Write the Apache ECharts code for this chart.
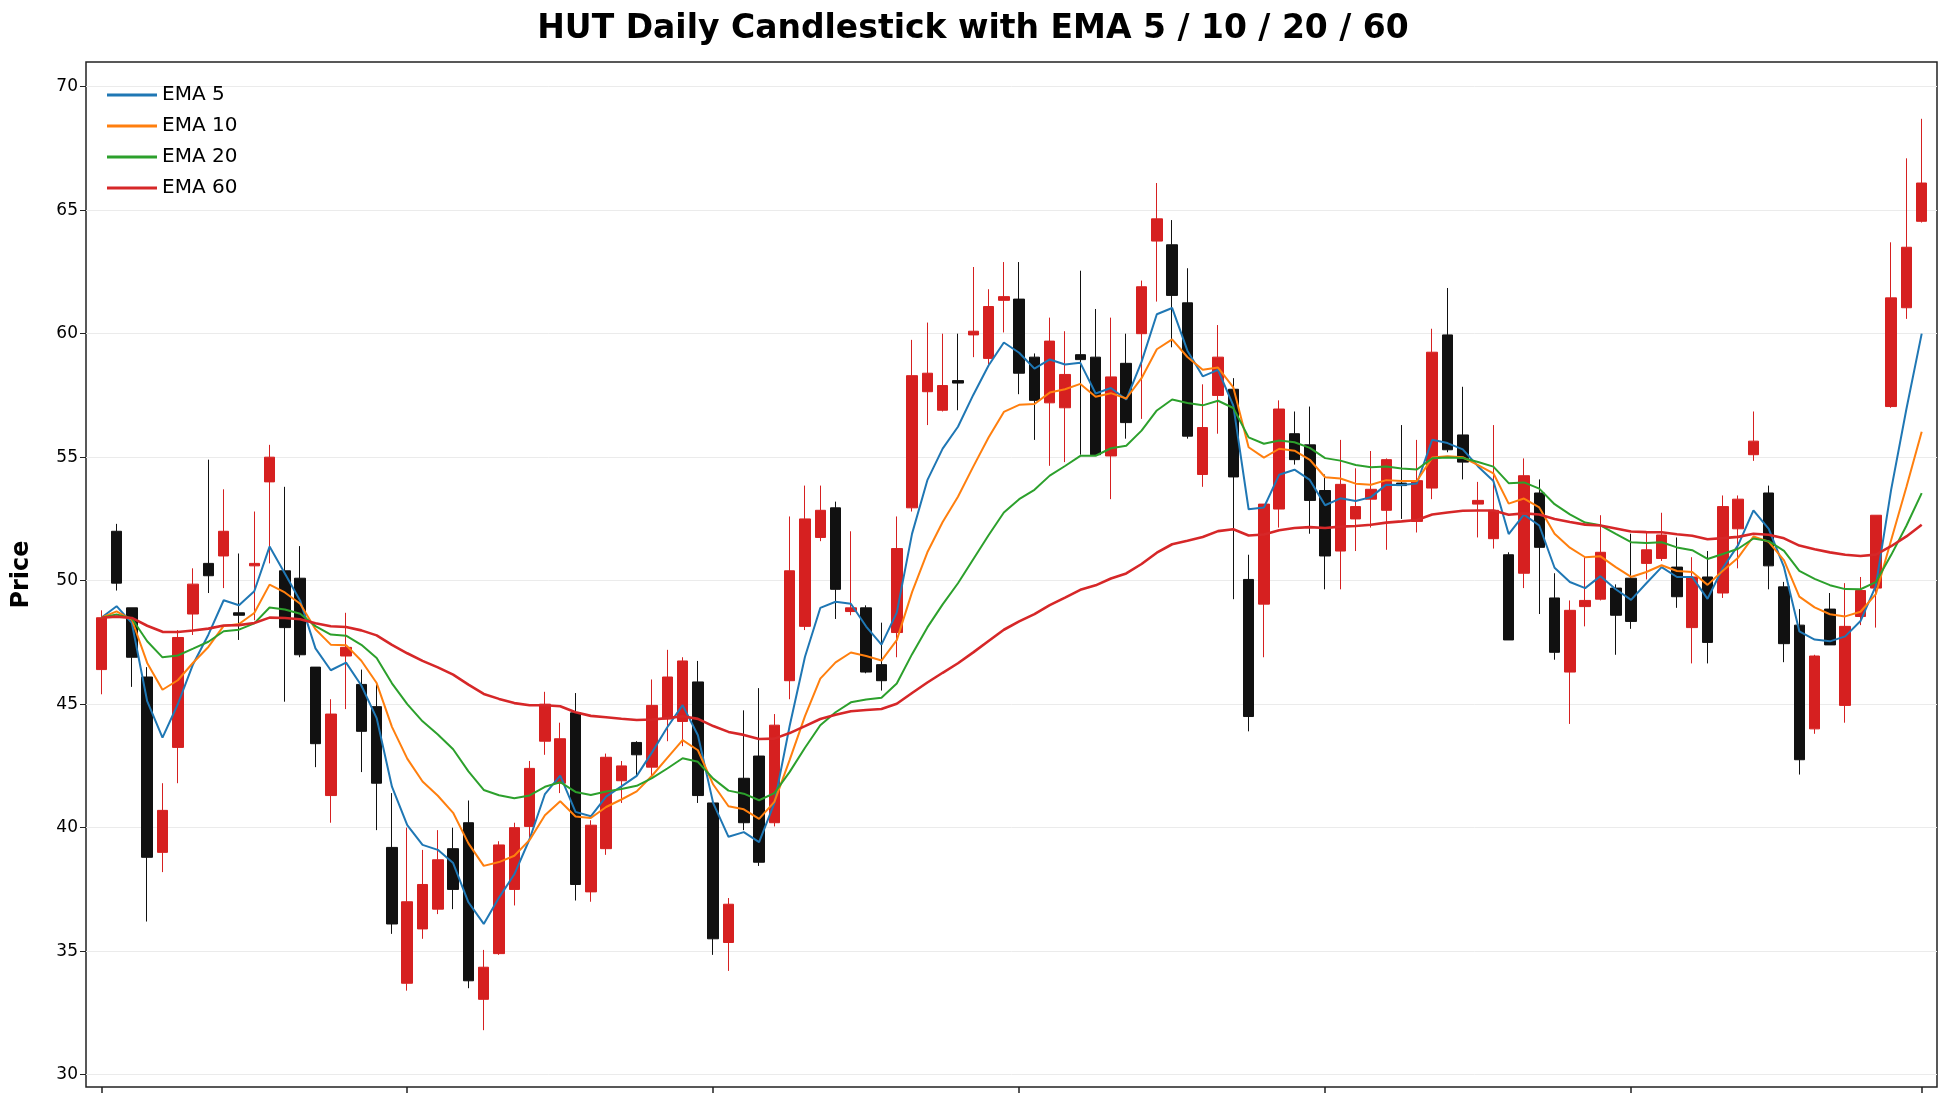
<!DOCTYPE html>
<html><head><meta charset="utf-8">
<script src="https://cdn.jsdelivr.net/npm/echarts@6/dist/echarts.min.js"></script>
<style>html,body{margin:0;padding:0;background:#fff}#c{width:1946px;height:1106px}</style>
</head><body><div id="c"></div>
<script>
// [open, close, low, high]
const opens  = [46.4,52.0,48.9,46.1,39.0,43.25,48.65,50.7,51.0,48.7,50.6,54.0,50.4,50.1,46.5,41.3,46.95,45.8,44.9,39.2,
33.7,35.9,36.7,39.15,40.2,33.05,34.9,37.5,40.05,43.5,41.8,44.65,37.4,39.15,41.9,43.45,42.45,44.4,44.3,45.9,
41.0,35.35,42.0,42.9,40.2,45.95,48.15,51.75,52.95,48.75,48.9,46.6,47.9,52.95,57.65,56.9,58.1,59.95,59.0,61.35,
61.4,59.05,57.2,57.0,59.15,59.05,55.05,58.8,60.0,63.75,63.6,61.25,54.3,57.5,57.75,50.05,49.05,52.9,55.95,55.5,
53.65,51.2,52.5,53.3,52.85,53.95,52.4,53.75,59.95,55.9,53.1,51.7,51.05,50.3,53.55,49.3,46.3,48.95,49.25,49.7,
50.1,50.7,50.9,50.55,48.1,50.15,49.5,52.1,55.1,53.55,49.75,48.2,44.0,48.85,44.95,48.55,49.7,57.05,61.05,64.55];
const closes = [48.5,49.9,46.9,38.8,40.7,47.7,49.86,50.2,52.0,48.6,50.7,55.0,48.1,47.0,43.4,44.6,47.3,43.9,41.8,36.1,
37.0,37.7,38.7,37.5,33.8,34.35,39.3,40.0,42.4,45.0,43.6,37.7,40.1,42.85,42.5,42.95,44.95,46.1,46.75,41.3,
35.5,36.9,40.2,38.6,44.15,50.4,52.5,52.85,49.65,48.9,46.3,45.95,51.3,58.3,58.4,57.9,58.0,60.1,61.1,61.5,
58.4,57.3,59.7,58.35,58.95,55.1,58.25,56.4,61.9,64.65,61.55,55.85,56.2,59.05,54.2,44.5,53.1,56.95,54.9,53.25,
51.0,53.9,53.0,53.7,54.9,53.85,54.05,59.25,55.3,54.8,53.25,52.85,47.6,54.25,51.35,47.1,48.8,49.2,51.15,48.6,
48.35,51.25,51.85,49.35,50.15,47.5,53.0,53.3,55.65,50.6,47.45,42.75,46.95,47.4,48.15,49.6,52.65,61.45,63.5,66.1];
const lows   = [45.4,49.6,45.7,36.2,38.2,41.8,47.8,49.5,49.7,47.6,48.4,50.7,45.1,46.9,42.45,40.2,44.8,42.25,39.9,35.7,
33.4,35.5,36.5,36.7,33.5,31.8,34.85,36.85,39.6,42.95,41.4,37.05,37.0,38.9,41.0,42.05,42.1,43.5,43.3,41.0,
34.85,34.2,39.9,38.45,40.05,45.2,48.0,51.6,48.45,48.6,46.25,45.55,46.9,52.8,56.3,56.85,56.9,59.05,58.75,60.05,
57.55,55.7,54.65,54.8,55.1,55.1,53.3,55.75,56.55,61.3,59.45,55.75,53.8,55.95,49.25,43.9,46.9,52.15,54.7,51.9,
49.65,49.65,51.2,52.15,51.25,52.5,51.95,53.3,55.2,54.1,51.75,51.3,47.6,49.7,48.65,46.8,44.2,48.15,49.2,47.0,
48.05,50.05,50.8,48.9,46.65,46.65,49.3,50.5,54.85,49.65,46.7,42.15,43.8,47.4,44.25,48.2,48.1,57.0,60.6,64.5];
const highs  = [48.8,52.3,48.9,46.5,41.8,48.0,50.5,54.9,53.7,51.1,52.8,55.5,53.8,51.4,46.5,45.2,48.7,46.4,45.8,41.4,
40.0,39.1,39.9,40.0,41.1,35.05,39.45,40.2,42.7,45.5,44.25,45.45,40.3,43.0,42.7,43.5,46.0,47.2,46.9,46.75,
41.05,37.15,44.75,45.65,44.6,52.6,53.85,53.85,53.2,52.0,49.0,48.3,52.6,59.75,60.45,60.0,60.0,62.7,61.8,62.9,
62.9,59.2,60.65,60.1,62.55,61.0,60.65,60.0,62.15,66.1,64.6,62.65,57.95,60.35,58.2,51.05,53.1,57.3,56.85,57.05,
54.3,55.7,54.55,55.25,54.95,56.3,55.7,60.2,61.85,57.85,54.0,56.3,51.15,54.95,54.1,50.3,49.2,50.95,52.65,49.85,
51.9,51.95,52.75,51.75,50.95,51.2,53.45,53.45,56.85,53.85,49.95,48.85,47.0,49.5,49.9,50.15,52.65,63.7,67.1,68.7];
const emaPeriods = [5, 10, 20, 60];
const emaColors = ['#1f77b4', '#ff7f0e', '#2ca02c', '#d62728'];
const yTicks = [30, 35, 40, 45, 50, 55, 60, 65, 70];
const tickIdx = [0, 20, 40, 60, 80, 100, 119];

const cats = [''].concat(closes.map((_, i) => 'D' + (i + 1))).concat(['']);
const kData = [['-','-','-','-']].concat(closes.map((c, i) => [opens[i], c, lows[i], highs[i]])).concat([['-','-','-','-']]);
function ema(p) {
  const a = 2 / (p + 1); let e = closes[0]; const out = ['-'];
  closes.forEach((c, i) => { e = i === 0 ? c : a * c + (1 - a) * e; out.push(+e.toFixed(3)); });
  out.push('-'); return out;
}
const tickSet = new Set(tickIdx.map(i => i + 1));
const chart = echarts.init(document.getElementById('c'), null, {renderer: 'canvas'});
const font = 'DejaVu Sans';
chart.setOption({
  animation: false,
  backgroundColor: '#fff',
  title: {text: 'HUT Daily Candlestick with EMA 5 / 10 / 20 / 60', left: 'center', top: 8,
    textStyle: {fontFamily: font, fontSize: 33, fontWeight: 'bold', color: '#000'}},
  legend: {left: 102, top: 80, orient: 'vertical', itemGap: 11, itemWidth: 50, itemHeight: 3,
    textStyle: {fontFamily: font, fontSize: 20, color: '#000'},
    data: emaPeriods.map(p => ({name: 'EMA ' + p, icon: 'rect'}))},
  grid: {left: 86, right: 9, top: 62, bottom: 19, show: true, borderColor: '#222', borderWidth: 1.5},
  xAxis: {type: 'category', data: cats, boundaryGap: false,
    axisLine: {show: false},
    axisTick: {show: true, interval: (i) => tickSet.has(i), length: 6, lineStyle: {color: '#222', width: 1.5}},
    axisLabel: {show: false}, splitLine: {show: false}},
  yAxis: {type: 'value', min: 29.5, max: 71, name: 'Price', nameLocation: 'middle', nameGap: 52,
    nameTextStyle: {fontFamily: font, fontSize: 24, fontWeight: 'bold', color: '#000'},
    axisLine: {show: false},
    axisTick: {show: true, length: 6, lineStyle: {color: '#222'}, customValues: yTicks},
    axisLabel: {fontFamily: font, fontSize: 17, color: '#000', customValues: yTicks},
    splitLine: {show: true, lineStyle: {color: '#ebebeb', width: 1}}},
  series: [{
    type: 'candlestick', data: kData, barWidth: 11,
    itemStyle: {color: '#d62020', color0: '#111111', borderColor: '#d62020', borderColor0: '#111111', borderWidth: 1}
  }].concat(emaPeriods.map((p, k) => ({
    type: 'line', name: 'EMA ' + p, data: ema(p), symbol: 'none', smooth: false,
    lineStyle: {color: emaColors[k], width: p === 60 ? 2.6 : 2}, itemStyle: {color: emaColors[k]}, z: 3
  })))
});
</script></body></html>
